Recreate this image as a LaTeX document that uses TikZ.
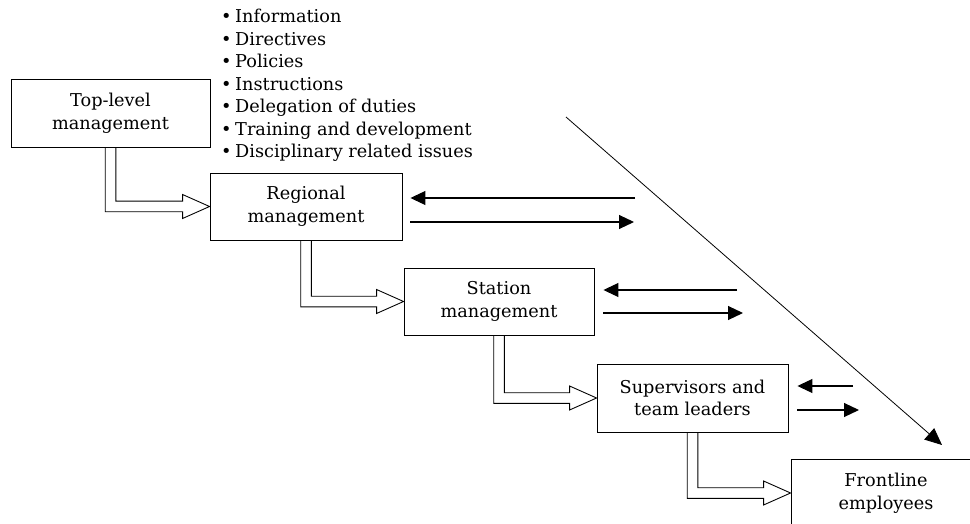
\documentclass[tikz,border=0pt]{standalone}
\usepackage{fontspec}
\setmainfont{DejaVu Serif}
\usetikzlibrary{arrows.meta,calc}
\tikzset{
  box/.style={draw, line width=0.9pt, rectangle, inner sep=0pt, align=center,
    font=\fontsize{17.7}{22.7}\selectfont},
  bul/.style={anchor=base west, inner sep=0pt, font=\fontsize{17.7}{22.7}\selectfont},
  hollow/.style={draw, line width=0.9pt, line join=miter},
  flow/.style={line width=1.1pt, -{Triangle[length=15pt,width=14pt]}},
  diag/.style={line width=0.8pt, -{Triangle[length=17pt,width=15pt]}}
}
\newcommand\hollowarr[2]{%
  \draw[hollow] let \p1=(#1.south), \p2=(#2.west) in
    (\x1-5.3pt,\y1) |- (\x2-27pt,\y2-5.3pt) -- (\x2-27pt,\y2-12pt) -- (\p2)
    -- (\x2-27pt,\y2+12pt) -- (\x2-27pt,\y2+5.3pt) -| (\x1+5.3pt,\y1);%
}
\begin{document}
\begin{tikzpicture}[x=1pt,y=-1pt]
\clip (0,0) rectangle (970,524);
\fill[white] (0,0) rectangle (970,524);

% boxes
\node[box, minimum width=199pt, minimum height=68pt] (top) at (110.5,113) {Top-level\\management};
\node[box, minimum width=192pt, minimum height=67pt] (reg) at (306,206.5) {Regional\\management};
\node[box, minimum width=190pt, minimum height=67pt] (sta) at (499,301.5) {Station\\management};
\node[box, minimum width=191pt, minimum height=68pt] (sup) at (692.5,398) {Supervisors and\\team leaders};
\node[box, minimum width=190pt, minimum height=68pt] (fro) at (886,493) {Frontline\\employees};

% bullet list
\node[bul] (b1) at (221,22.7) {\makebox[14pt][l]{•}Information};
\node[bul] (b2) at (221,45.2) {\makebox[14pt][l]{•}Directives};
\node[bul] (b3) at (221,67.7) {\makebox[14pt][l]{•}Policies};
\node[bul] (b4) at (221,90.2) {\makebox[14pt][l]{•}Instructions};
\node[bul] (b5) at (221,112.7) {\makebox[14pt][l]{•}Delegation of duties};
\node[bul] (b6) at (221,135.2) {\makebox[14pt][l]{•}Training and development};
\node[bul] (b7) at (221,157.7) {\makebox[14pt][l]{•}Disciplinary related issues};

% hollow arrows
\hollowarr{top}{reg}
\hollowarr{reg}{sta}
\hollowarr{sta}{sup}
\hollowarr{sup}{fro}

% two-way arrows
\coordinate (r1) at (635,198);
\coordinate (r2) at (634,222);
\coordinate (s1) at (737,290);
\coordinate (s2) at (743,313);
\coordinate (u1) at (853,386);
\coordinate (u2) at (859,410);
\draw[flow, shorten >=8pt] (r1) -- (r1 -| reg.east);
\draw[flow, shorten <=8pt] (r2 -| reg.east) -- (r2);
\draw[flow, shorten >=9pt] (s1) -- (s1 -| sta.east);
\draw[flow, shorten <=9pt] (s2 -| sta.east) -- (s2);
\draw[flow, shorten >=9pt] (u1) -- (u1 -| sup.east);
\draw[flow, shorten <=9pt] (u2 -| sup.east) -- (u2);

% diagonal
\coordinate (d1) at (566,117);
\coordinate (d2) at (942,445);
\draw[diag] (d1) -- (d2);
\end{tikzpicture}
\end{document}
